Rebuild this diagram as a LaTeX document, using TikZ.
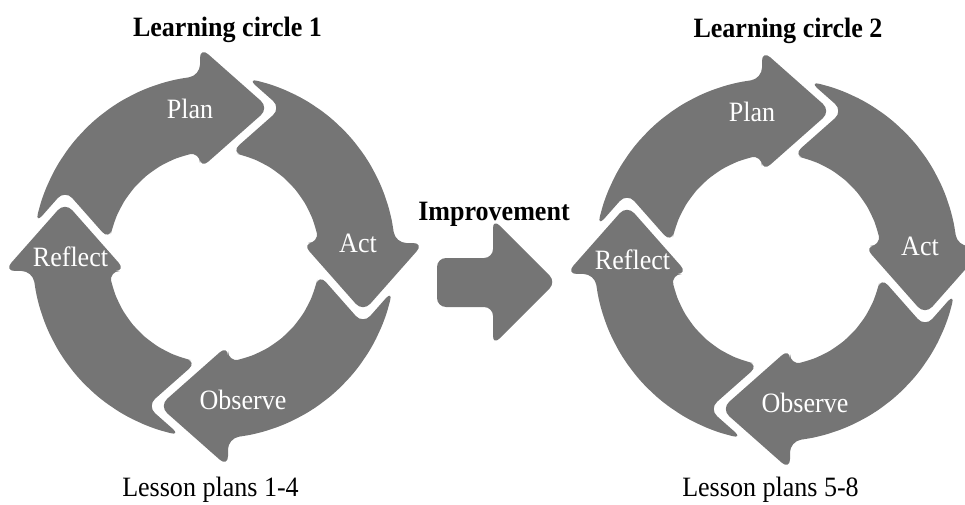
\documentclass[tikz,border=0pt]{standalone}
\usepackage{fontspec}
\setmainfont{Liberation Serif}[FakeStretch=0.93]
\definecolor{arrowgray}{RGB}{117,117,117}
\tikzset{
  cyclearrow/.pic={
    \fill[arrowgray, rounded corners=11pt]
      plot[domain=169.49:94.41, samples=9, variable=\ang] ({182*cos(\ang)},{182*sin(\ang)})
      -- (-14,210) -- (55,149) -- (-14,88)
      -- plot[domain=97.59:170.83, samples=9, variable=\ang] ({106*cos(\ang)},{106*sin(\ang)})
      -- (-149,67.1) -- cycle;
  },
  lbl/.style={text=white, font=\fontsize{28}{30}\selectfont, anchor=base, inner sep=0pt},
  ttl/.style={font=\bfseries\fontsize{28}{30}\selectfont, anchor=base, inner sep=0pt},
  capt/.style={font=\fontsize{28}{30}\selectfont, anchor=base, inner sep=0pt}
}
\begin{document}
\begin{tikzpicture}[x=1pt,y=1pt]
\useasboundingbox (0,0) rectangle (965,504);
% circle 1
\begin{scope}[shift={(214,247)}]
  \pic[rotate=0] {cyclearrow};
  \pic[rotate=-90] {cyclearrow};
  \pic[rotate=-180] {cyclearrow};
  \pic[rotate=90] {cyclearrow};
  \node[lbl] (plan1) at (-24,138.5) {Plan};
  \node[lbl] (act1) at (144,4.5) {Act};
  \node[lbl] (obs1) at (29,-152.5) {Observe};
  \node[lbl] (refl1) at (-143.5,-9) {Reflect};
\end{scope}
% circle 2
\begin{scope}[shift={(776,244)}]
  \pic[rotate=0] {cyclearrow};
  \pic[rotate=-90] {cyclearrow};
  \pic[rotate=-180] {cyclearrow};
  \pic[rotate=90] {cyclearrow};
  \node[lbl] (plan2) at (-24,138.5) {Plan};
  \node[lbl] (act2) at (144,4.5) {Act};
  \node[lbl] (obs2) at (29,-152.5) {Observe};
  \node[lbl] (refl2) at (-143.5,-9) {Reflect};
\end{scope}
% improvement arrow
\fill[arrowgray, rounded corners=9pt] (437,197) -- (493,197) -- (493,159) -- (556,222) -- (493,285) -- (493,246) -- (437,246) -- cycle;
\node[ttl] (impr) at (494,284) {Improvement};
% titles and captions
\node[ttl] (title1) at (227.5,467) {Learning circle 1};
\node[ttl] (title2) at (788,466) {Learning circle 2};
\node[capt] (less1) at (210.5,7.5) {Lesson plans 1-4};
\node[capt] (less2) at (770.5,7.5) {Lesson plans 5-8};
\end{tikzpicture}
\end{document}
